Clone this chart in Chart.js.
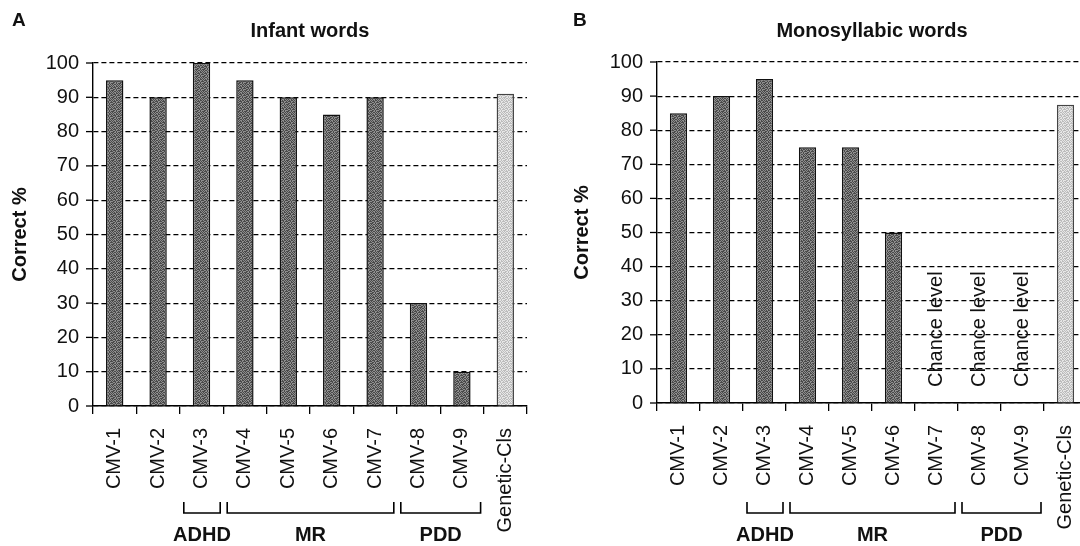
<!DOCTYPE html>
<html lang="en">
<head>
  <meta charset="UTF-8">
  <title>Infant words / Monosyllabic words</title>
  <script src="https://cdn.jsdelivr.net/npm/chart.js"></script>
  <style>
    html, body { margin: 0; padding: 0; background: #fff; overflow: hidden; }
    #wrap { position: relative; width: 1080px; height: 546px; overflow: hidden; }
    canvas { position: absolute; top: 0; }
    #graficoA { left: 0; }
    #graficoB { left: 540px; }
  </style>
</head>
<body>
  <div id="wrap">
    <canvas id="graficoA" width="540" height="546"></canvas>
    <canvas id="graficoB" width="560" height="546"></canvas>
  </div>

  <script>
    const categories = ['CMV-1', 'CMV-2', 'CMV-3', 'CMV-4', 'CMV-5', 'CMV-6', 'CMV-7', 'CMV-8', 'CMV-9', 'Genetic-Cls'];
    const infantWords = [95, 90, 100, 95, 90, 85, 90, 30, 10, 91];
    const monoWords = [85, 90, 95, 75, 75, 50, null, null, null, 87.5];
    const yTicks = [0, 10, 20, 30, 40, 50, 60, 70, 80, 90, 100];
    const groupLabels = ['ADHD', 'MR', 'PDD'];
    const groupFrom = [2, 3, 7];
    const groupTo = [2, 6, 8];
    const chanceCols = [6, 7, 8];
    const chanceText = 'Chance level';

    const FONT = "'Liberation Sans', Arial, sans-serif";
    Chart.defaults.font.family = FONT;
    Chart.defaults.color = '#111';

    // retino a puntini come nella stampa originale (disegno fisso, niente caso)
    const tile = [
      '1011010',
      '0100101',
      '1010110',
      '0111001',
      '1001011',
      '0110100',
      '1100101'
    ];
    function retino(scuro, chiaro) {
      const c = document.createElement('canvas');
      c.width = tile.length;
      c.height = tile.length;
      const g = c.getContext('2d');
      tile.forEach((riga, r) => {
        [...riga].forEach((ch, k) => {
          g.fillStyle = ch === '1' ? scuro : chiaro;
          g.fillRect(k, r, 1, 1);
        });
      });
      return g.createPattern(c, 'repeat');
    }
    const tmp = document.createElement('canvas').getContext('2d');
    const darkFill = retino('#4a4a4a', '#8e8e8e');
    const lightFill = retino('#bcbcbc', '#e6e6e6');

    // tacche dell'asse y, titoli, parentesi dei gruppi
    const extras = {
      id: 'extras',
      afterDraw(chart, args, o) {
        const ctx = chart.ctx;
        const x = chart.scales.x;
        const y = chart.scales.y;
        const area = chart.chartArea;
        ctx.save();
        ctx.strokeStyle = '#000';
        ctx.lineWidth = 1.3;
        yTicks.forEach(v => {
          const py = y.getPixelForValue(v);
          ctx.beginPath();
          ctx.moveTo(area.left - 7, py);
          ctx.lineTo(area.left, py);
          ctx.stroke();
        });

        ctx.fillStyle = '#111';
        ctx.font = 'bold 19px ' + FONT;
        ctx.textAlign = 'left';
        ctx.textBaseline = 'alphabetic';
        ctx.fillText(o.letter, o.letterX, 26);
        ctx.font = 'bold 20px ' + FONT;
        ctx.textAlign = 'center';
        ctx.fillText(o.title, (area.left + area.right) / 2, 37);

        const half = (x.getPixelForValue(1) - x.getPixelForValue(0)) / 2;
        ctx.lineWidth = 1.6;
        groupLabels.forEach((g, i) => {
          const x1 = x.getPixelForValue(groupFrom[i]) - half + 4;
          const x2 = x.getPixelForValue(groupTo[i]) + half - 3;
          ctx.beginPath();
          ctx.moveTo(x1, 502);
          ctx.lineTo(x1, 513);
          ctx.lineTo(x2, 513);
          ctx.lineTo(x2, 502);
          ctx.stroke();
          ctx.fillText(g, (x1 + x2) / 2, 541);
        });

        if (o.chance) {
          ctx.font = '20px ' + FONT;
          ctx.textAlign = 'left';
          ctx.textBaseline = 'middle';
          chanceCols.forEach(c => {
            ctx.save();
            ctx.translate(x.getPixelForValue(c), y.getPixelForValue(0) - 16);
            ctx.rotate(-Math.PI / 2);
            ctx.fillText(chanceText, 0, 0);
            ctx.restore();
          });
        }
        ctx.restore();
      }
    };

    function creaGrafico(id, valori, cfg) {
      return new Chart(document.getElementById(id), {
        type: 'bar',
        data: {
          labels: categories,
          datasets: [{
            data: valori,
            backgroundColor: categories.map((_, i) => i === categories.length - 1 ? lightFill : darkFill),
            borderColor: categories.map((_, i) => i === categories.length - 1 ? '#444' : '#111'),
            borderWidth: 1.5,
            borderSkipped: 'bottom',
            categoryPercentage: 1,
            barPercentage: 0.4
          }]
        },
        options: {
          responsive: false,
          animation: false,
          layout: { padding: { top: cfg.top, right: cfg.right, left: 0, bottom: 0 } },
          plugins: {
            legend: { display: false },
            tooltip: { enabled: false },
            extras: { letter: cfg.letter, letterX: cfg.letterX, title: cfg.title, chance: cfg.chance }
          },
          scales: {
            x: {
              afterFit: s => { s.height = 546 - cfg.bottom; s.paddingLeft = 0; s.paddingRight = 0; },
              grid: { offset: true, drawOnChartArea: false, drawTicks: true, tickLength: 8, color: '#000', lineWidth: 1.3 },
              border: { color: '#000', width: 1.4 },
              ticks: { font: { size: 20 }, color: '#111', maxRotation: 90, minRotation: 90, padding: 14, autoSkip: false }
            },
            y: {
              min: 0,
              max: 100,
              afterFit: s => { s.width = cfg.axisX; s.paddingTop = 0; s.paddingBottom = 0; },
              title: { display: true, text: 'Correct %', font: { size: 20, weight: 'bold' }, color: '#111', padding: { top: cfg.titlePad, bottom: 0 } },
              grid: { color: '#000', lineWidth: 1.2, drawTicks: false },
              border: { color: '#000', width: 1.4, dash: [5, 3] },
              ticks: { stepSize: 10, font: { size: 20 }, color: '#111', padding: 14 }
            }
          }
        },
        plugins: [extras]
      });
    }

    creaGrafico('graficoA', infantWords, { top: 63, bottom: 406, right: 13, axisX: 93, titlePad: 8, letter: 'A', letterX: 12, title: 'Infant words', chance: false });
    creaGrafico('graficoB', monoWords, { top: 62, bottom: 403, right: 13, axisX: 117, titlePad: 30, letter: 'B', letterX: 33, title: 'Monosyllabic words', chance: true });
  </script>
</body>
</html>
